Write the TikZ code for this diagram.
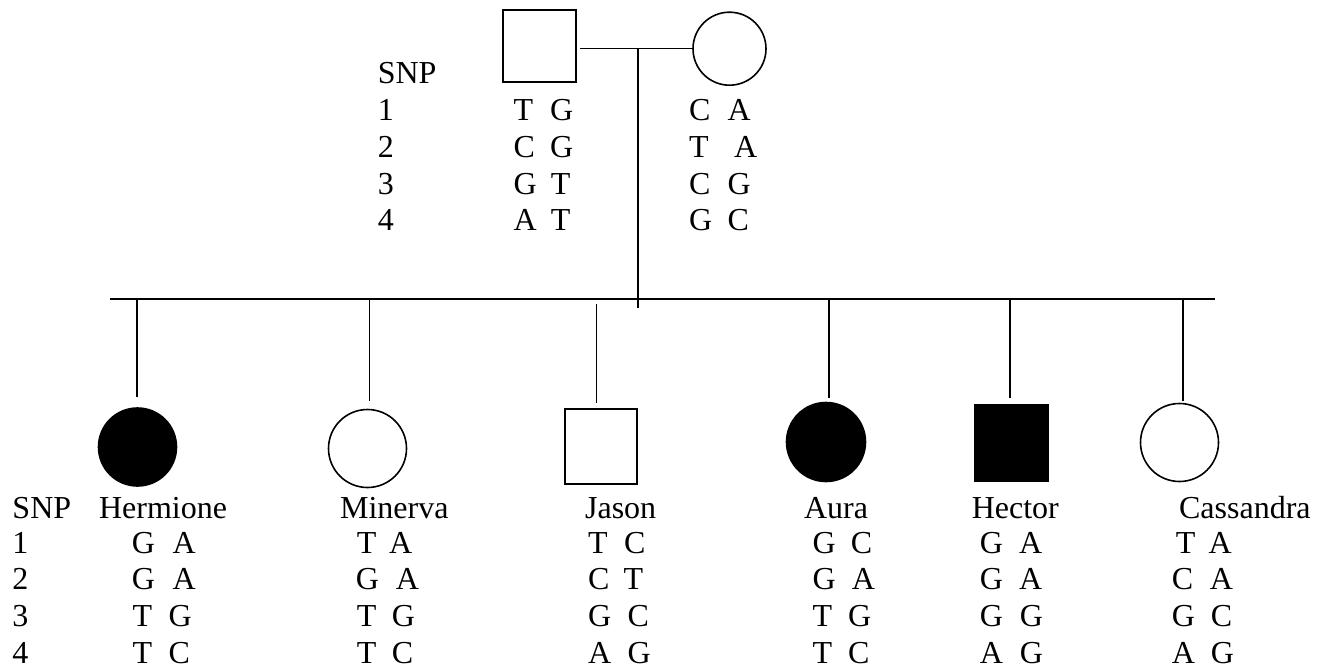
\documentclass[tikz,border=0pt]{standalone}
\usepackage{fontspec}
\setmainfont{Liberation Serif}
\begin{document}
\begin{tikzpicture}[x=1pt,y=-1pt,line width=1.6pt,
  txt/.style={anchor=base west,inner sep=0pt,font=\fontsize{32}{37}\selectfont},
  fem/.style={draw,circle,minimum size=78pt,inner sep=0pt},
  mal/.style={draw,rectangle,minimum width=73pt,minimum height=74pt,inner sep=0pt},
  aff/.style={fill=black}]
\useasboundingbox (0,0) rectangle (1320,669);

% parents
\node[mal,minimum height=72pt] (F) at (539.5,46) {};
\node[fem,minimum size=73pt] (M) at (729.5,48.7) {};
\coordinate (mL) at (580,48.7);
\coordinate (mid) at (637.7,48.7);
\coordinate (vEnd) at (637.7,308);
\draw (mL) -- (M.west);
\draw (mid) -- (vEnd);

% sibship line
\coordinate (sL) at (110,299);
\coordinate (sR) at (1215,299);
\draw (sL) -- (sR);

% children
\node[fem,aff] (H) at (137.5,447) {};
\node[fem] (Mi) at (367.5,448.5) {};
\node[mal,minimum width=72pt,minimum height=75pt] (J) at (601,446.5) {};
\node[fem,aff,minimum width=79pt,minimum height=76pt] (A) at (826,442) {};
\node[mal,aff,minimum height=76pt] (He) at (1011.3,443) {};
\node[fem,minimum size=78pt] (C) at (1179.5,442.5) {};

\coordinate (d1a) at (137,299);   \coordinate (d1b) at (137,397);
\coordinate (d2a) at (369.3,299); \coordinate (d2b) at (369.3,400.7);
\coordinate (d3a) at (596.3,304); \coordinate (d3b) at (596.3,403);
\coordinate (d4a) at (829,299);   \coordinate (d4b) at (829,397.7);
\coordinate (d5a) at (1009.7,299);\coordinate (d5b) at (1009.7,397.7);
\coordinate (d6a) at (1183,299);  \coordinate (d6b) at (1183,401);
\foreach \i in {1,...,6} \draw (d\i a) -- (d\i b);

% top genotype table
\node[txt] (snpT) at (377,83.3) {SNP};
\node[txt] (t1) at (377,120.3) {1};
\node[txt] (t2) at (377,157.3) {2};
\node[txt] (t3) at (377,194) {3};
\node[txt] (t4) at (377,230.7) {4};

\node[txt] (f1a) at (512.7,120.3) {T}; \node[txt] (f1b) at (549.3,120.3) {G};
\node[txt] (f2a) at (512.7,157.3) {C}; \node[txt] (f2b) at (549.3,157.3) {G};
\node[txt] (f3a) at (512.7,194) {G};   \node[txt] (f3b) at (550,194) {T};
\node[txt] (f4a) at (512.7,230.7) {A}; \node[txt] (f4b) at (550,230.7) {T};

\node[txt] (m1a) at (688.3,120.3) {C}; \node[txt] (m1b) at (726.7,120.3) {A};
\node[txt] (m2a) at (688.3,157.3) {T}; \node[txt] (m2b) at (733.3,157.3) {A};
\node[txt] (m3a) at (688.3,194) {C};   \node[txt] (m3b) at (726.7,194) {G};
\node[txt] (m4a) at (688.3,230.7) {G}; \node[txt] (m4b) at (726.7,230.7) {C};

% bottom table
\node[txt] (snpB) at (11.7,518) {SNP};
\node[txt] (b1) at (11.7,553.3) {1};
\node[txt] (b2) at (11.7,589.8) {2};
\node[txt] (b3) at (11.7,626.5) {3};
\node[txt] (b4) at (11.7,663) {4};

\node[txt] (nH) at (98.3,518) {Hermione};
\node[txt] (nMi) at (339.3,518) {Minerva};
\node[txt] (nJ) at (584.3,518) {Jason};
\node[txt] (nA) at (803.3,518) {Aura};
\node[txt] (nHe) at (971,518) {Hector};
\node[txt] (nC) at (1178.3,518) {Cassandra};

% Hermione
\node[txt] (h1a) at (131,553.3) {G};   \node[txt] (h1b) at (171.7,553.3) {A};
\node[txt] (h2a) at (131,589.8) {G};   \node[txt] (h2b) at (171.7,589.8) {A};
\node[txt] (h3a) at (131.7,626.5) {T}; \node[txt] (h3b) at (167.7,626.5) {G};
\node[txt] (h4a) at (131.7,663) {T};   \node[txt] (h4b) at (167.7,663) {C};
% Minerva
\node[txt] (i1a) at (356,553.3) {T};   \node[txt] (i1b) at (388.3,553.3) {A};
\node[txt] (i2a) at (355,589.8) {G};   \node[txt] (i2b) at (395,589.8) {A};
\node[txt] (i3a) at (356,626.5) {T};   \node[txt] (i3b) at (391,626.5) {G};
\node[txt] (i4a) at (356,663) {T};     \node[txt] (i4b) at (391,663) {C};
% Jason
\node[txt] (j1a) at (587.3,553.3) {T}; \node[txt] (j1b) at (623.3,553.3) {C};
\node[txt] (j2a) at (587.3,589.8) {C}; \node[txt] (j2b) at (622.7,589.8) {T};
\node[txt] (j3a) at (587.3,626.5) {G}; \node[txt] (j3b) at (626.7,626.5) {C};
\node[txt] (j4a) at (587.3,663) {A};   \node[txt] (j4b) at (626.7,663) {G};
% Aura
\node[txt] (a1a) at (811.7,553.3) {G}; \node[txt] (a1b) at (850,553.3) {C};
\node[txt] (a2a) at (811.7,589.8) {G}; \node[txt] (a2b) at (851,589.8) {A};
\node[txt] (a3a) at (811.7,626.5) {T}; \node[txt] (a3b) at (847.3,626.5) {G};
\node[txt] (a4a) at (811.7,663) {T};   \node[txt] (a4b) at (847.3,663) {C};
% Hector
\node[txt] (e1a) at (979,553.3) {G};   \node[txt] (e1b) at (1018.3,553.3) {A};
\node[txt] (e2a) at (979,589.8) {G};   \node[txt] (e2b) at (1018.3,589.8) {A};
\node[txt] (e3a) at (979,626.5) {G};   \node[txt] (e3b) at (1019,626.5) {G};
\node[txt] (e4a) at (979,663) {A};     \node[txt] (e4b) at (1019,663) {G};
% Cassandra
\node[txt] (c1a) at (1175,553.3) {T};  \node[txt] (c1b) at (1207.7,553.3) {A};
\node[txt] (c2a) at (1171,589.8) {C};  \node[txt] (c2b) at (1209,589.8) {A};
\node[txt] (c3a) at (1171,626.5) {G};  \node[txt] (c3b) at (1210,626.5) {C};
\node[txt] (c4a) at (1171,663) {A};    \node[txt] (c4b) at (1210,663) {G};
\end{tikzpicture}
\end{document}
